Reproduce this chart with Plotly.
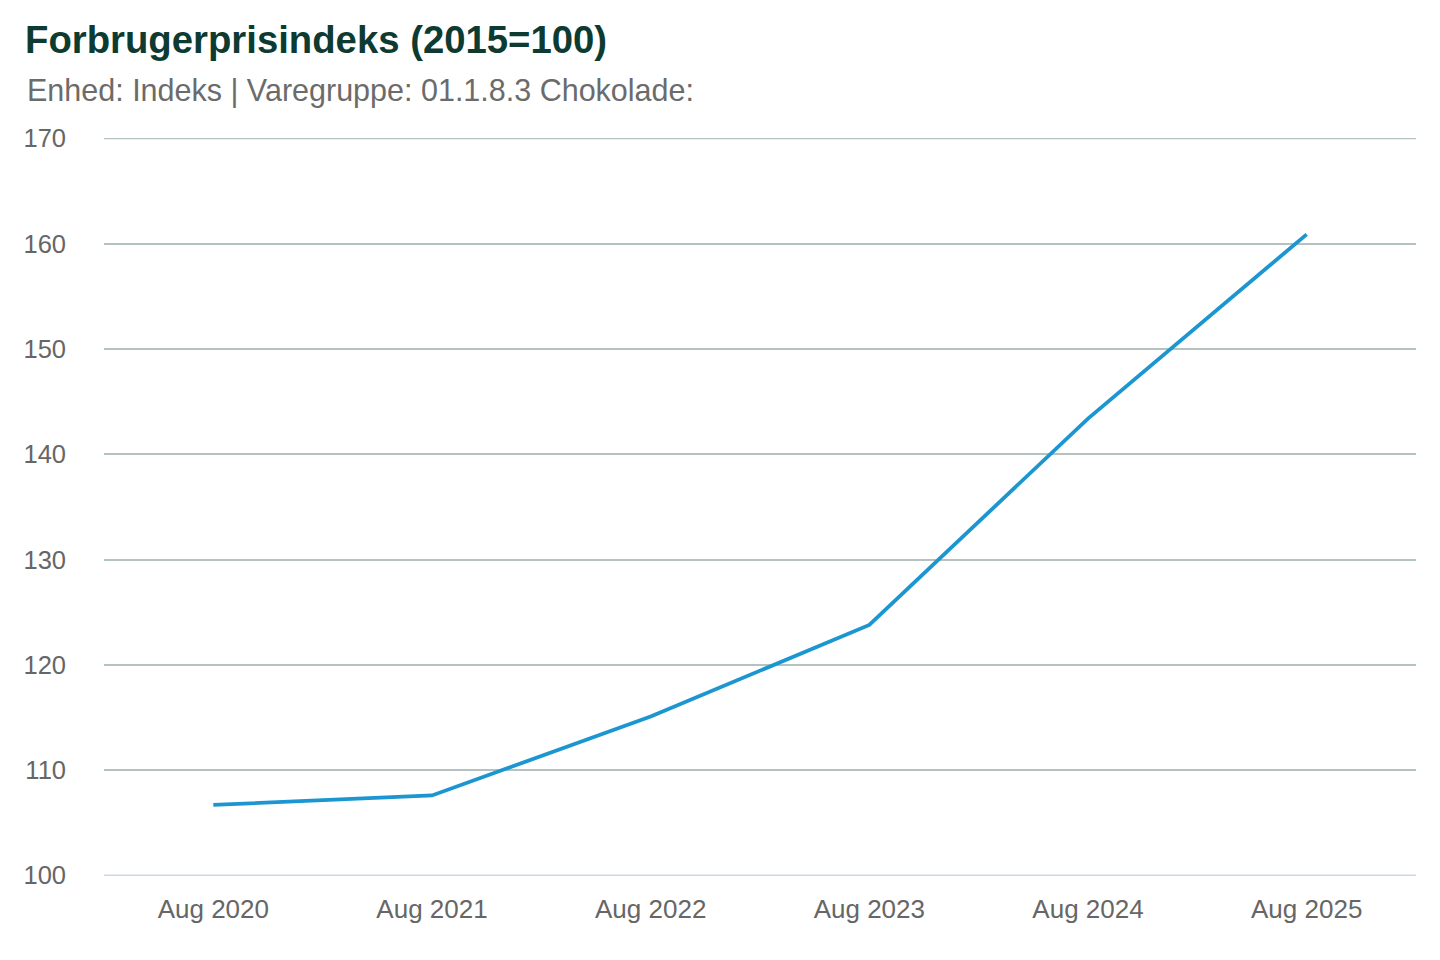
import plotly.graph_objects as go

months = ["Aug 2020", "Aug 2021", "Aug 2022", "Aug 2023", "Aug 2024", "Aug 2025"]
index_values = [106.7, 107.6, 115.1, 123.8, 143.4, 160.9]
y_ticks = [100, 110, 120, 130, 140, 150, 160, 170]

fig = go.Figure()
fig.add_trace(go.Scatter(
    x=months, y=index_values, mode="lines",
    line=dict(color="#1b96d0", width=3.8),
    hoverinfo="x+y", showlegend=False,
))

fig.update_layout(
    width=1440, height=960,
    paper_bgcolor="white", plot_bgcolor="white",
    margin=dict(l=96, r=32, t=130, b=92),
    font=dict(family="Liberation Sans, Arial, sans-serif", color="#666666"),
    title=dict(
        text="<b>Forbrugerprisindeks (2015=100)</b>",
        x=0.0118, xref="container", xanchor="left",
        y=0.967, yref="container", yanchor="middle",
        font=dict(size=38.3, color="#0d3b31"),
    ),
    annotations=[dict(
        text="Enhed: Indeks | Varegruppe: 01.1.8.3 Chokolade:",
        xref="paper", yref="paper", x=-0.0602, y=1.0,
        xanchor="left", yanchor="middle", yshift=48,
        showarrow=False, font=dict(size=30.5, color="#6b6b6b"),
    )],
    xaxis=dict(
        type="category", range=[-0.5, 5.5],
        showgrid=False, showline=False, zeroline=False,
        ticks="", tickfont=dict(size=26, color="#666666"),
        ticklabelstandoff=15,
    ),
    yaxis=dict(
        range=[99.95, 170.05], tickvals=y_ticks,
        showgrid=True, gridcolor="#b5c2c2", gridwidth=1.5,
        zeroline=False, showline=False, ticks="",
        tickfont=dict(size=25.5, color="#666666"),
        ticklabelstandoff=37,
    ),
)

fig.add_shape(type="line", xref="paper", yref="y", x0=0, x1=1,
              y0=y_ticks[-1], y1=y_ticks[-1],
              line=dict(color="#b5c2c2", width=1.5), layer="below")
fig.add_shape(type="line", xref="paper", yref="y", x0=0, x1=1,
              y0=y_ticks[0], y1=y_ticks[0],
              line=dict(color="#ccd6eb", width=2), layer="above")

fig.write_html("out.html")
